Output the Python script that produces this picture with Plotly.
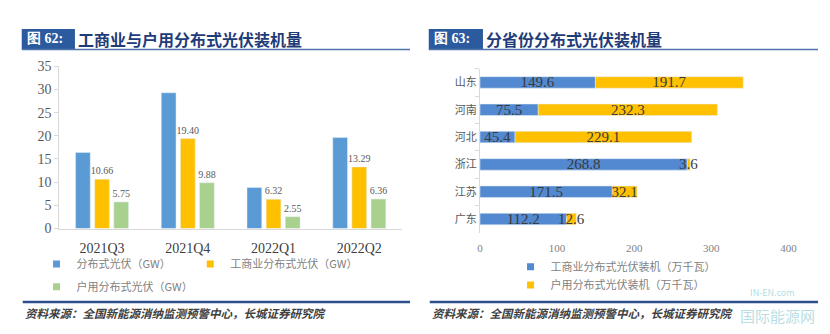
import plotly.graph_objects as go

# ---- left chart: quarterly distributed PV installs (GW) ----
quarters = ["2021Q3", "2021Q4", "2022Q1", "2022Q2"]
dist_total = [16.41, 29.28, 8.87, 19.65]
ci_dist = [10.66, 19.40, 6.32, 13.29]
res_dist = [5.75, 9.88, 2.55, 6.36]

# ---- right chart: installs by province (10k kW) ----
provinces = ["山东", "河南", "河北", "浙江", "江苏", "广东"]
prov_ci = [149.6, 75.5, 45.4, 268.8, 171.5, 112.2]
prov_res = [191.7, 232.3, 229.1, 3.6, 32.1, 12.6]

W, H = 830, 334
BLUE, ORANGE, GREEN = "#5B9BD5", "#FFC000", "#A9D18E"
BLUE2 = "#5289D0"
NAVY = "#1F3C78"
SERIF = "Liberation Serif, Times New Roman, serif"
CJK = "Noto Sans CJK SC, sans-serif"


def px(x):
    return x / W


def py(y):
    return 1 - y / H


fig = go.Figure()

# grouped bars, left
for name, vals, col, lab, lg in [
    ("分布式光伏（GW）", dist_total, BLUE, False, "legend"),
    ("工商业分布式光伏（GW）", ci_dist, ORANGE, True, "legend2"),
    ("户用分布式光伏（GW）", res_dist, GREEN, True, "legend3"),
]:
    fig.add_trace(go.Bar(
        x=quarters, y=vals, marker_color=col, name=name, showlegend=False,
        text=[f"{v:.2f}" for v in vals] if lab else None,
        textposition="outside", constraintext="none",
        textfont=dict(family=SERIF, size=10, color="#595959"),
        cliponaxis=False, xaxis="x", yaxis="y",
    ))
    fig.add_trace(go.Scatter(
        x=[None], y=[None], mode="markers", name=name, legend=lg,
        marker=dict(symbol="square", size=7, color=col), xaxis="x", yaxis="y",
    ))

# stacked horizontal bars, right: the household segment starts where the C&I one ends
for name, vals, base, col, lg in [
    ("工商业分布式光伏装机（万千瓦）", prov_ci, None, BLUE2, "legend4"),
    ("户用分布式光伏装机（万千瓦）", prov_res, prov_ci, ORANGE, "legend5"),
]:
    fig.add_trace(go.Bar(
        y=provinces, x=vals, base=base, orientation="h", marker_color=col, name=name,
        offsetgroup="prov", width=0.42, showlegend=False,
        text=[f"{v:.1f}" for v in vals], textposition="inside",
        insidetextanchor="middle", textangle=0, constraintext="none",
        textfont=dict(family=SERIF, size=15, color="#3A3A3A"),
        cliponaxis=False, xaxis="x2", yaxis="y2",
    ))
    fig.add_trace(go.Scatter(
        x=[None], y=[None], mode="markers", name=name, legend=lg,
        marker=dict(symbol="square", size=7, color=col), xaxis="x2", yaxis="y2",
    ))

legend_common = dict(bgcolor="rgba(0,0,0,0)", xanchor="left", yanchor="middle",
                     font=dict(family=CJK, size=11, color="#7F7F7F"))

fig.update_layout(
    width=W, height=H, margin=dict(l=0, r=0, t=0, b=0),
    paper_bgcolor="white", plot_bgcolor="white",
    barmode="group", bargap=0.33, bargroupgap=0.23,
    xaxis=dict(domain=[px(57), px(405)], showline=True, linecolor="#D9D9D9",
               ticks="outside", ticklen=7, tickcolor="rgba(0,0,0,0)",
               tickfont=dict(family=SERIF, size=14, color="#404040"), fixedrange=True),
    yaxis=dict(domain=[py(232), py(62)], range=[0, 35], dtick=5, showgrid=False,
               showline=True, linecolor="#D9D9D9", ticks="outside", ticklen=4,
               tickcolor="#D9D9D9", zeroline=False,
               tickfont=dict(family=SERIF, size=14, color="#595959")),
    xaxis2=dict(domain=[px(484), px(797)], range=[0, 400], dtick=100, anchor="y2",
                showgrid=False, zeroline=False, showline=False, ticks="outside",
                ticklen=5, tickcolor="rgba(0,0,0,0)",
                tickfont=dict(family=SERIF, size=11, color="#7F7F7F")),
    yaxis2=dict(domain=[py(236.3), py(64.7)], anchor="x2", autorange="reversed",
                showline=True, linecolor="#D9D9D9", ticks="outside", ticklen=4,
                tickcolor="#D9D9D9", tickson="boundaries",
                tickfont=dict(family=CJK, size=11, color="#595959")),
    legend=dict(x=px(34), y=py(269), **legend_common),
    legend2=dict(x=px(190), y=py(269), **legend_common),
    legend3=dict(x=px(34), y=py(293), **legend_common),
    legend4=dict(x=px(515), y=py(272), **legend_common),
    legend5=dict(x=px(515), y=py(291), **legend_common),
)

shapes = []
annotations = []
# headers and rules
for x0, x1, label, title, tend in [
    (19, 73, "图 62:", "工商业与户用分布式光伏装机量", 413),
    (432, 487, "图 63:", "分省份分布式光伏装机量", 827),
]:
    shapes.append(dict(type="rect", xref="paper", yref="paper", x0=px(x0), x1=px(x1),
                       y0=py(44), y1=py(23), fillcolor="#2C5A9E", line_width=0))
    shapes.append(dict(type="line", xref="paper", yref="paper", x0=px(x0), x1=px(tend),
                       y0=py(44.5), y1=py(44.5), line=dict(color="#4F74AC", width=1.5)))
    annotations.append(dict(text=f"<b>{label}</b>", xref="paper", yref="paper",
                            x=px(x0 + 3), y=py(33.5), xanchor="left", yanchor="middle",
                            showarrow=False, font=dict(family=SERIF, size=14, color="white")))
    annotations.append(dict(text=f"<b>{title}</b>", xref="paper", yref="paper",
                            x=px(x1 + 1), y=py(33.5), xanchor="left", yanchor="middle",
                            showarrow=False, font=dict(family=CJK, size=16, color=NAVY)))
    # footer rule and source line
    shapes.append(dict(type="line", xref="paper", yref="paper", x0=px(x0 + 1), x1=px(tend),
                       y0=py(309), y1=py(309), line=dict(color="#2F4F8F", width=2.5)))
    annotations.append(dict(text="<b><i>资料来源：全国新能源消纳监测预警中心，长城证券研究院</i></b>",
                            xref="paper", yref="paper", x=px(x0 + 1), y=py(320),
                            xanchor="left", yanchor="middle", showarrow=False,
                            font=dict(family=CJK, size=11.5, color="#404040")))

# faint site watermark
annotations.append(dict(text="IN-EN.com", xref="paper", yref="paper", x=px(756), y=py(299),
                        xanchor="left", yanchor="middle", showarrow=False,
                        font=dict(family=CJK, size=9, color="rgba(110,190,200,0.55)")))
annotations.append(dict(text="国际能源网", xref="paper", yref="paper", x=px(746), y=py(323),
                        xanchor="left", yanchor="middle", showarrow=False,
                        font=dict(family=CJK, size=15, color="rgba(110,190,200,0.5)")))

fig.update_layout(shapes=shapes, annotations=annotations)
fig.write_html("out.html")
